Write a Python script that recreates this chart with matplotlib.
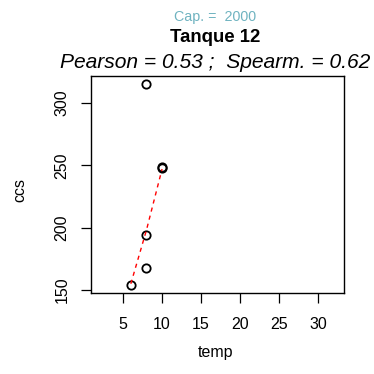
import matplotlib
matplotlib.use("Agg")
import matplotlib.pyplot as plt

temp = [6, 8, 8, 8, 10, 10]
ccs = [154, 168, 194, 315, 248, 249]
fit_x = [6, 8, 10]
fit_y = [155, 198, 247]
xticks = [5, 10, 15, 20, 25, 30]
yticks = [150, 200, 250, 300]

plt.rcParams['font.family'] = ['Liberation Sans', 'DejaVu Sans']

fig = plt.figure(figsize=(3.74, 3.74), dpi=100)
ax = fig.add_axes([91/374, 1-293/374, (344-91)/374, (293-76)/374])

ax.plot(temp, ccs, linestyle='none', marker='o', markerfacecolor='none',
        markeredgecolor='black', markersize=6, markeredgewidth=1.3)
ax.plot(fit_x, fit_y, color='red', linestyle=(0, (3, 3)), linewidth=1.0)

ax.set_xlim(0.9, 33.3)
ax.set_ylim(147.6, 321.6)
ax.set_xticks(xticks)
ax.set_yticks(yticks)
ax.set_xticklabels([str(v) for v in xticks], fontsize=11.5)
ax.set_yticklabels([str(v) for v in yticks], fontsize=11.5, rotation=90, va='center')
ax.tick_params(axis='x', length=7, width=0.9, pad=10)
ax.tick_params(axis='y', length=7, width=0.9, pad=8.5)
for s in ax.spines.values():
    s.set_linewidth(1.0)

fig.text(215/374, 1-353/374, 'temp', fontsize=11.5, ha='center', va='center')
fig.text(20/374, 1-190/374, 'ccs', fontsize=11.5, ha='center', va='center', rotation=90)

fig.text(215/374, 1-17/374, 'Cap. =  2000', fontsize=10.3, color='#6fb3c0', ha='center', va='center')
fig.text(215/374, 1-38/374, 'Tanque 12', fontsize=13.4, fontweight='bold', ha='center', va='center')
fig.text(215/374, 1-62/374, 'Pearson = 0.53 ;  Spearm. = 0.62', fontsize=15.1, style='italic', ha='center', va='center')

fig.savefig('out.png', dpi=100)
